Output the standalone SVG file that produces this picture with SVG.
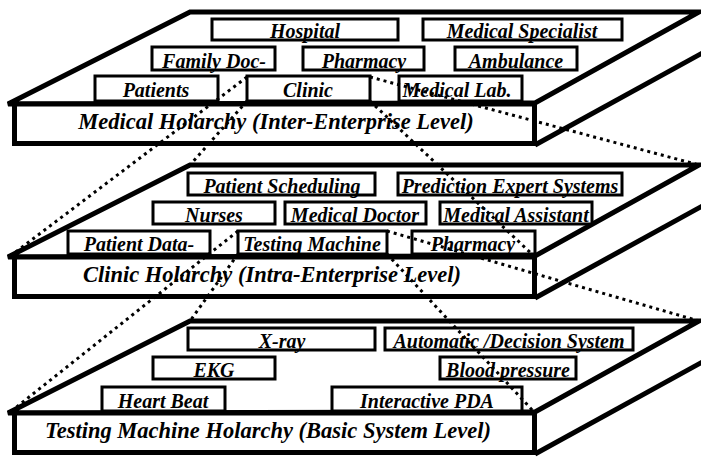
<svg xmlns="http://www.w3.org/2000/svg" width="701" height="457" viewBox="0 0 701 457">
<defs>
<style>
.face{fill:#fff;stroke:#000;stroke-width:5;stroke-linejoin:miter}
.edge{fill:none;stroke:#000;stroke-width:5}
.box{fill:#fff;stroke:#000;stroke-width:3}
.lbl{font-family:"Liberation Serif","Times New Roman",serif;font-weight:bold;font-style:italic;font-size:20px;text-anchor:middle;fill:#000}
.main{font-size:22.5px}
.conn{fill:none;stroke:#000;stroke-width:3;stroke-dasharray:3 4}
</style>
<g id="slab-shape">
<polygon class="face" points="8,104 190,12 699,12 535,103"/>
<line class="edge" x1="535" y1="145" x2="706" y2="51"/>
<rect class="face" x="14.5" y="104" width="520" height="39.5"/>
</g>
</defs>

<g id="medical-holarchy">
<use href="#slab-shape"/>
<text class="lbl main" x="276" y="129">Medical Holarchy (Inter-Enterprise Level)</text>
<g id="hospital"><rect class="box" x="212" y="19" width="186" height="21"/><text class="lbl" x="305" y="37.5">Hospital</text></g>
<g id="medical-specialist"><rect class="box" x="423" y="19" width="199" height="21"/><text class="lbl" x="522" y="37.5">Medical Specialist</text></g>
<g id="family-doc"><rect class="box" x="152" y="47" width="123" height="23"/><text class="lbl" x="214" y="67.5">Family Doc-</text></g>
<g id="pharmacy-1"><rect class="box" x="303" y="47" width="121" height="23"/><text class="lbl" x="364" y="67.5">Pharmacy</text></g>
<g id="ambulance"><rect class="box" x="455" y="47" width="122" height="23"/><text class="lbl" x="516" y="67.5">Ambulance</text></g>
<g id="patients"><rect class="box" x="95" y="76" width="123" height="25"/><text class="lbl" x="156" y="97">Patients</text></g>
<g id="clinic"><rect class="box" x="247" y="76" width="123" height="25"/><text class="lbl" x="308" y="97">Clinic</text></g>
<g id="medical-lab"><rect class="box" x="399" y="76" width="123" height="25"/><text class="lbl" x="457" y="97">Medical Lab.</text></g>
</g>

<g id="clinic-holarchy">
<use href="#slab-shape" transform="translate(0,153)"/>
<text class="lbl main" x="272" y="282">Clinic Holarchy (Intra-Enterprise Level)</text>
<g id="patient-scheduling"><rect class="box" x="188" y="173" width="187" height="22"/><text class="lbl" x="282" y="192.5">Patient Scheduling</text></g>
<g id="prediction-expert-systems"><rect class="box" x="398" y="173" width="224" height="22"/><text class="lbl" x="510" y="192.5">Prediction Expert Systems</text></g>
<g id="nurses"><rect class="box" x="153" y="202" width="122" height="22"/><text class="lbl" x="214" y="221.5">Nurses</text></g>
<g id="medical-doctor"><rect class="box" x="285" y="202" width="141" height="22"/><text class="lbl" x="355" y="221.5">Medical Doctor</text></g>
<g id="medical-assistant"><rect class="box" x="440" y="202" width="152" height="22"/><text class="lbl" x="516" y="221.5">Medical Assistant</text></g>
<g id="patient-data"><rect class="box" x="68" y="231" width="142" height="23"/><text class="lbl" x="139" y="250.5">Patient Data-</text></g>
<g id="testing-machine"><rect class="box" x="238" y="231" width="149" height="23"/><text class="lbl" x="312" y="250.5">Testing Machine</text></g>
<g id="pharmacy-2"><rect class="box" x="412" y="231" width="123" height="23"/><text class="lbl" x="473" y="250.5">Pharmacy</text></g>
</g>

<g id="testing-machine-holarchy">
<use href="#slab-shape" transform="translate(0,309)"/>
<text class="lbl main" x="268" y="438">Testing Machine Holarchy (Basic System Level)</text>
<g id="x-ray"><rect class="box" x="188" y="328" width="187" height="22"/><text class="lbl" x="282" y="347.5">X-ray</text></g>
<g id="automatic-decision-system"><rect class="box" x="385" y="328" width="248" height="22"/><text class="lbl" x="509" y="347.5">Automatic /Decision System</text></g>
<g id="ekg"><rect class="box" x="153" y="357" width="122" height="22"/><text class="lbl" x="214" y="376.5">EKG</text></g>
<g id="blood-pressure"><rect class="box" x="440" y="357" width="136" height="22"/><text class="lbl" x="508" y="376.5">Blood pressure</text></g>
<g id="heart-beat"><rect class="box" x="102" y="387" width="123" height="24"/><text class="lbl" x="163" y="407.5">Heart Beat</text></g>
<g id="interactive-pda"><rect class="box" x="332" y="387" width="190" height="24"/><text class="lbl" x="427" y="407.5">Interactive PDA</text></g>
</g>

<g id="connectors">
<line class="conn" x1="247" y1="77" x2="9" y2="257"/>
<line class="conn" x1="247" y1="101" x2="190" y2="165"/>
<line class="conn" x1="370" y1="77" x2="699" y2="165"/>
<line class="conn" x1="370" y1="101" x2="535" y2="257"/>
<line class="conn" x1="238" y1="231" x2="9" y2="413"/>
<line class="conn" x1="238" y1="254" x2="190" y2="321"/>
<line class="conn" x1="387" y1="231" x2="699" y2="321"/>
<line class="conn" x1="387" y1="254" x2="535" y2="413"/>
</g>
</svg>
